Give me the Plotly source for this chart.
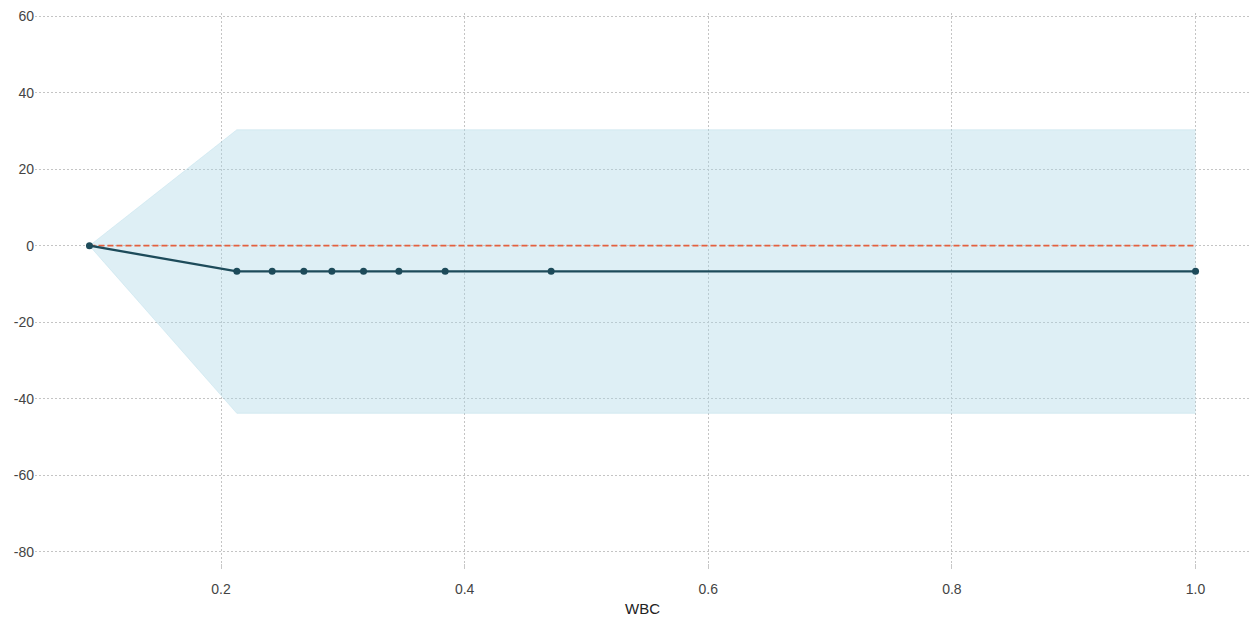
import plotly.graph_objects as go

# WBC grid values and the estimated effect at each one
wbc = [0.092, 0.213, 0.242, 0.268, 0.291, 0.317, 0.346, 0.384, 0.471, 1.0]
effect = [0.0, -6.7, -6.7, -6.7, -6.7, -6.7, -6.7, -6.7, -6.7, -6.7]
upper = [0.0, 30.3, 30.3, 30.3, 30.3, 30.3, 30.3, 30.3, 30.3, 30.3]
lower = [0.0, -43.8, -43.8, -43.8, -43.8, -43.8, -43.8, -43.8, -43.8, -43.8]
baseline = [0.0] * len(wbc)

x_ticks = [0.2, 0.4, 0.6, 0.8, 1.0]
x_tick_text = ["0.2", "0.4", "0.6", "0.8", "1.0"]
y_ticks = [60, 40, 20, 0, -20, -40, -60, -80]
y_tick_text = ["60", "40", "20", "0", "-20", "-40", "-60", "-80"]

fig = go.Figure()

# confidence band
fig.add_trace(go.Scatter(
    x=wbc, y=upper, mode="lines", line=dict(width=0.6, color="rgba(173,216,230,0.6)"),
    showlegend=False, hoverinfo="skip"))
fig.add_trace(go.Scatter(
    x=wbc, y=lower, mode="lines", line=dict(width=0.6, color="rgba(173,216,230,0.6)"),
    fill="tonexty", fillcolor="rgba(173,216,230,0.4)",
    showlegend=False, hoverinfo="skip"))

# zero reference
fig.add_trace(go.Scatter(
    x=wbc, y=baseline, mode="lines",
    line=dict(color="#e4603f", width=1.8, dash="6px,3px"),
    showlegend=False))

# effect curve
fig.add_trace(go.Scatter(
    x=wbc, y=effect, mode="lines+markers",
    line=dict(color="#1d4b5a", width=2.3),
    marker=dict(color="#1d4b5a", size=7),
    showlegend=False))

grid = dict(showgrid=True, gridcolor="#c4c4c4", gridwidth=1, griddash="2px,2px",
            zeroline=False, showline=False)

fig.update_layout(
    width=1252, height=619,
    margin=dict(l=35, r=2, t=13, b=56),
    paper_bgcolor="white", plot_bgcolor="white",
    font=dict(family="Liberation Sans, Arial, sans-serif", size=14, color="#444444"),
    xaxis=dict(range=[0.0473, 1.0447], tickvals=x_ticks, ticktext=x_tick_text,
               ticks="outside", ticklen=5, tickcolor="#c8c8c8", ticklabelstandoff=8,
               title=dict(text="WBC", font=dict(size=15, color="#222222"), standoff=7),
               **grid),
    yaxis=dict(range=[-82.9, 60.8], tickvals=y_ticks, ticktext=y_tick_text,
               ticks="", **grid),
)

fig.write_html("out.html")
